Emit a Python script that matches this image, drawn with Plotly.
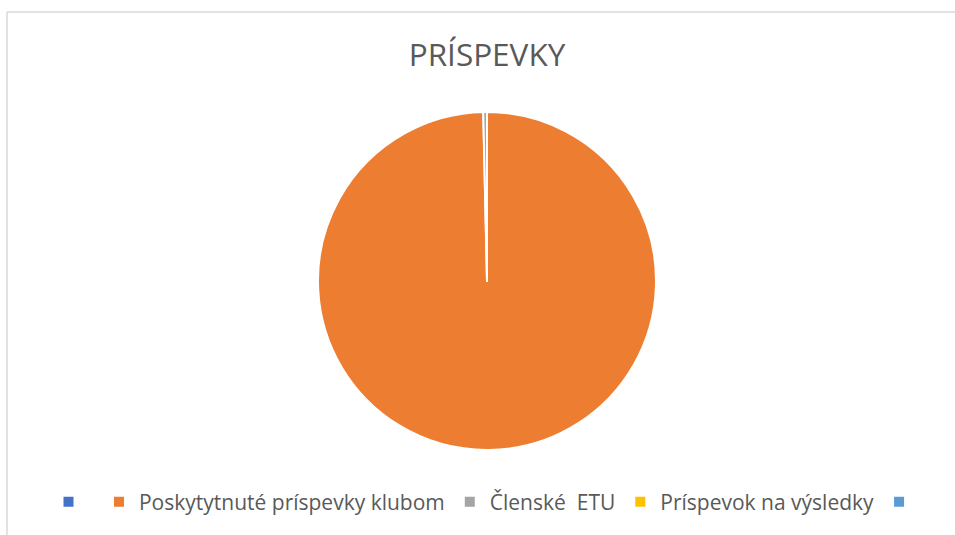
import plotly.graph_objects as go

categories = [" ", "Poskytytnuté príspevky klubom", "Členské\u00a0 ETU", "Príspevok na výsledky", "  "]
values = [0, 28000, 100, 0, 0]
colors = ["#4472C4", "#ED7D31", "#A5A5A5", "#FFC000", "#5B9BD5"]

W, H = 955, 535
cx, cy, r = 487, 281, 169

fig = go.Figure(go.Pie(
    labels=categories,
    values=values,
    sort=False,
    direction="clockwise",
    rotation=0,
    textinfo="none",
    hoverinfo="label+value+percent",
    marker=dict(colors=colors, line=dict(color="white", width=2)),
    domain=dict(x=[(cx - 200) / W, (cx + 200) / W], y=[1 - (cy + r) / H, 1 - (cy - r) / H]),
))

fig.update_layout(
    width=W, height=H,
    margin=dict(l=0, r=0, t=0, b=0),
    paper_bgcolor="white",
    font=dict(family="Open Sans", color="#595959"),
    title=dict(text="PRÍSPEVKY", x=cx / W, xanchor="center", y=1 - 55 / H, yanchor="middle",
               font=dict(size=31.5, color="#595959", family="Open Sans")),
    legend=dict(orientation="h", x=(cx + 5) / W, xanchor="center", y=1 - 502 / H, yanchor="middle",
                font=dict(size=21, color="#595959"), itemclick=False, tracegroupgap=0),
    shapes=[
        dict(type="line", xref="paper", yref="paper", x0=7 / W, x1=1, y0=1 - 12 / H, y1=1 - 12 / H,
             line=dict(color="#D9D9D9", width=1.5)),
        dict(type="line", xref="paper", yref="paper", x0=7 / W, x1=7 / W, y0=0, y1=1 - 12 / H,
             line=dict(color="#D9D9D9", width=1.5)),
    ],
)

fig.write_html("out.html", config={"displayModeBar": False},
               post_script="document.body.style.margin='0';document.body.style.overflow='hidden';")
